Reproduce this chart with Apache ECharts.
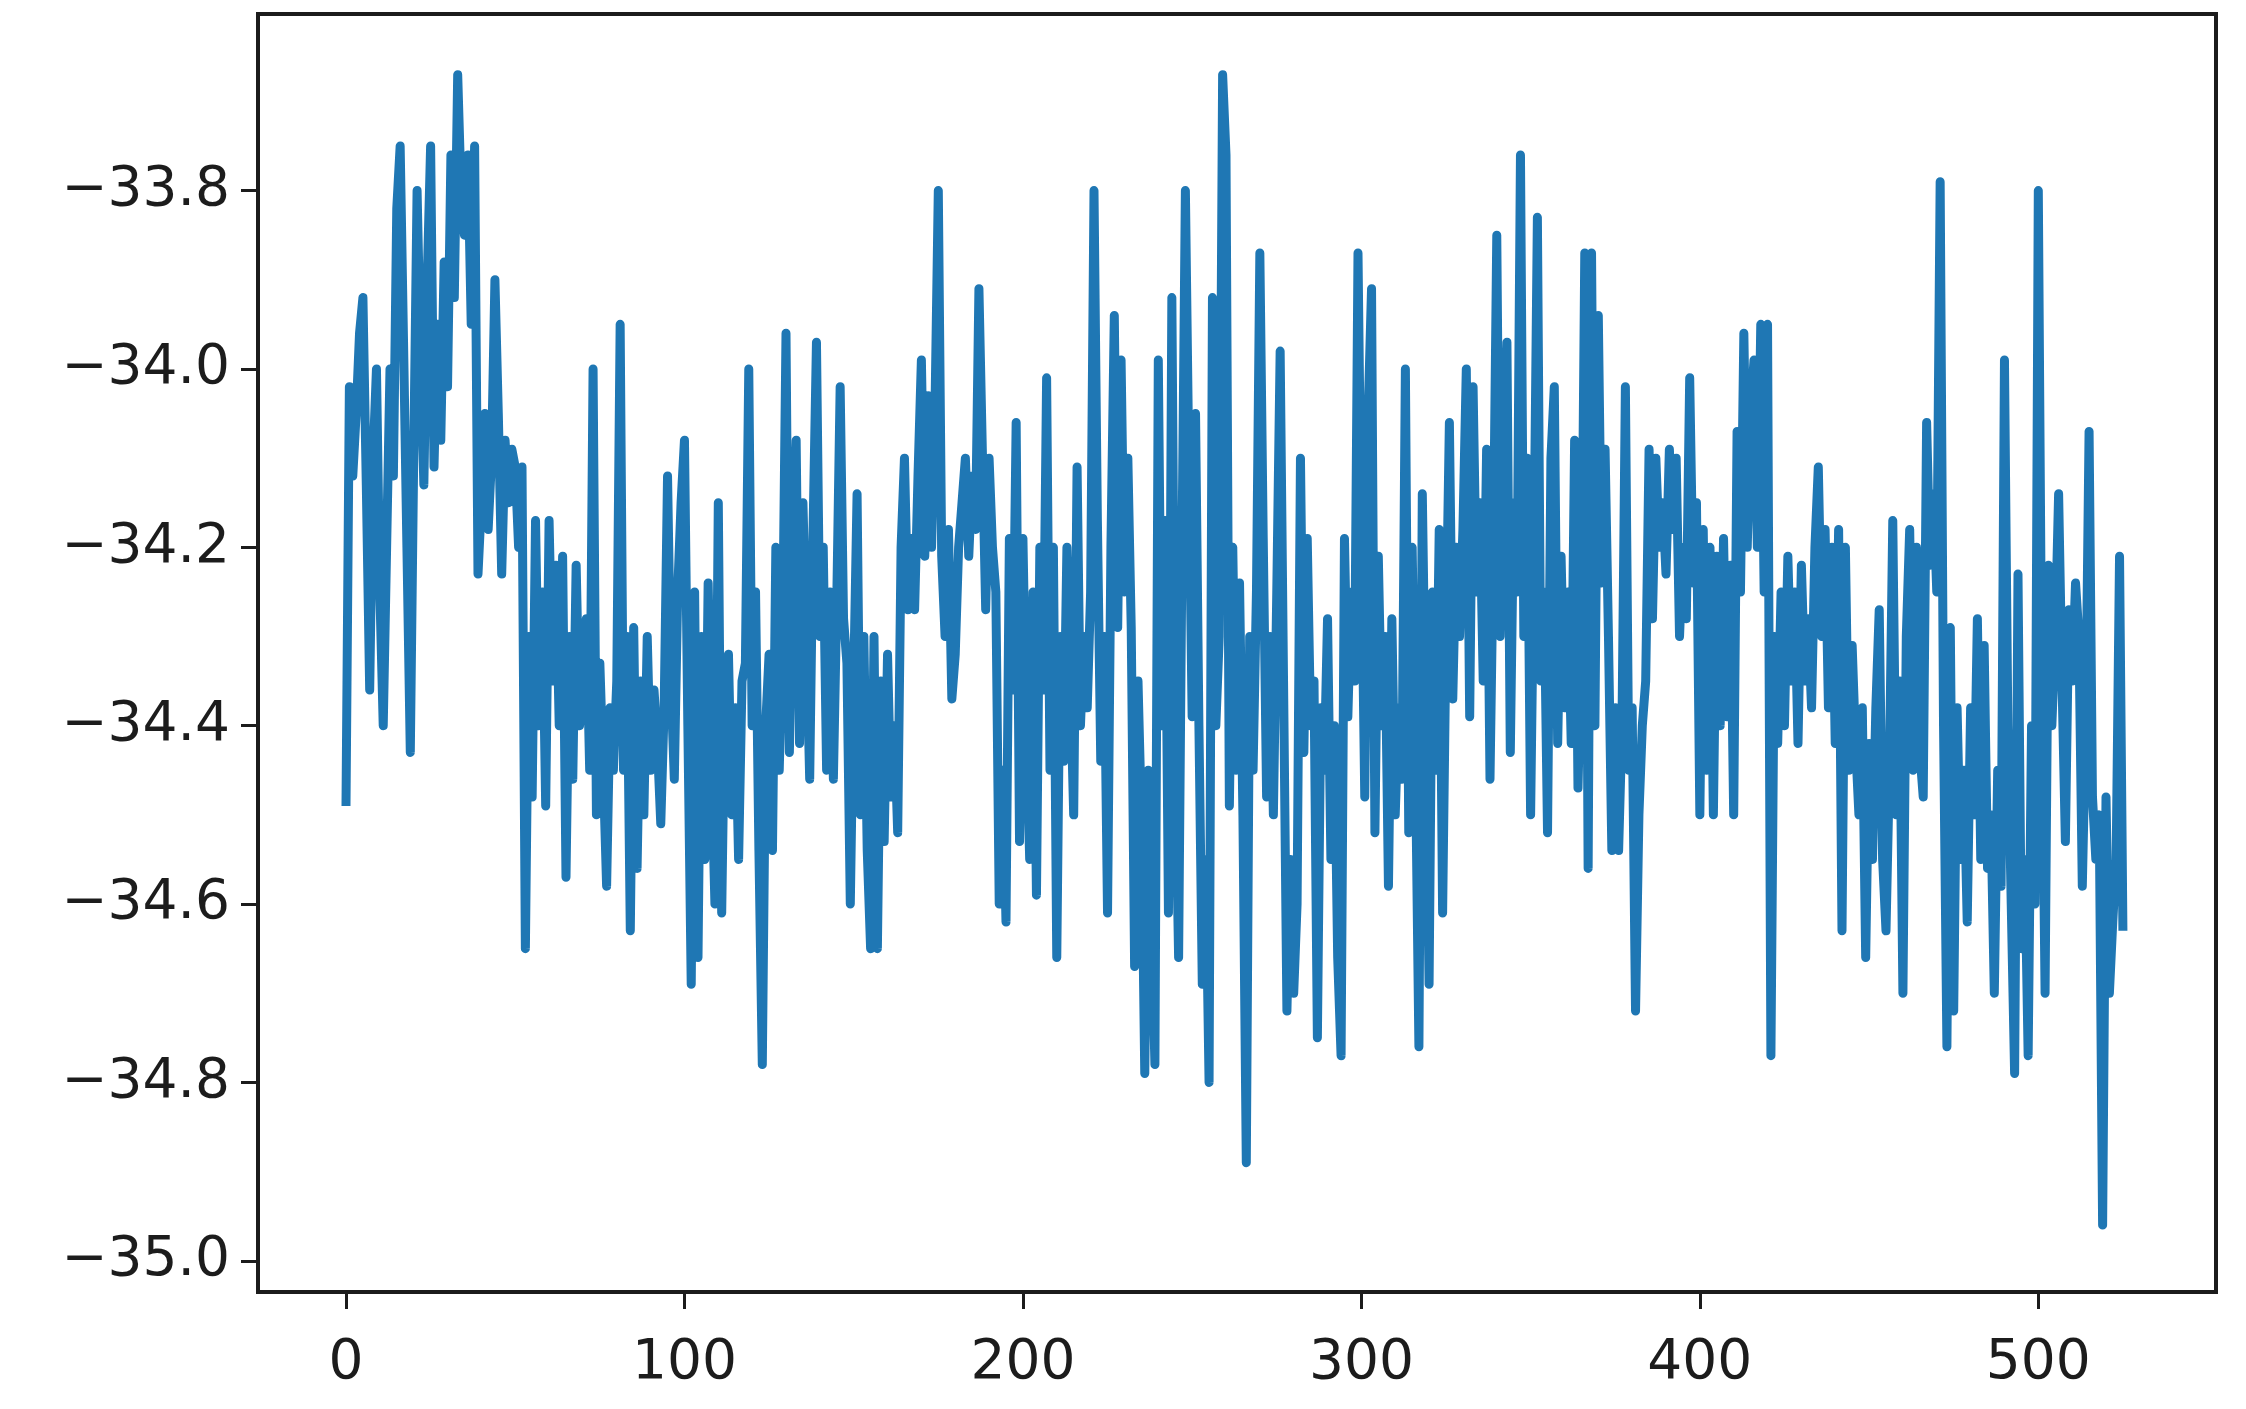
<!DOCTYPE html>
<html>
<head>
<meta charset="utf-8">
<title>line</title>
<script src="https://cdn.jsdelivr.net/npm/echarts@6/dist/echarts.min.js"></script>
<style>
  html, body { margin: 0; padding: 0; background: #fff; }
  #lineChart { width: 2246px; height: 1409px; }
</style>
</head>
<body>
<div id="lineChart"></div>
<script>
  // tick positions shown on the axes
  const xTicks = [0, 100, 200, 300, 400, 500]
  const yTicks = [-35.0, -34.8, -34.6, -34.4, -34.2, -34.0, -33.8]

  // one value per sample, index 0..525
  const values = [
    -34.49, -34.02, -34.12, -34.05, -33.96, -33.92, -34.13, -34.36, -34.10, -34.00,
    -34.25, -34.40, -34.20, -34.00, -34.12, -33.82, -33.75, -33.97, -34.20, -34.43,
    -34.10, -33.80, -33.98, -34.13, -33.90, -33.75, -34.11, -33.95, -34.08, -33.88,
    -34.02, -33.76, -33.92, -33.67, -33.80, -33.85, -33.76, -33.95, -33.75, -34.23,
    -34.15, -34.05, -34.18, -34.10, -33.90, -34.05, -34.23, -34.08, -34.15, -34.09,
    -34.11, -34.20, -34.11, -34.65, -34.30, -34.48, -34.17, -34.40, -34.25, -34.49,
    -34.17, -34.35, -34.22, -34.40, -34.21, -34.57, -34.30, -34.46, -34.22, -34.40,
    -34.35, -34.28, -34.45, -34.00, -34.50, -34.33, -34.45, -34.58, -34.38, -34.45,
    -34.35, -33.95, -34.45, -34.30, -34.63, -34.29, -34.56, -34.35, -34.50, -34.30,
    -34.45, -34.36, -34.42, -34.51, -34.38, -34.12, -34.35, -34.46, -34.25, -34.15,
    -34.08, -34.40, -34.69, -34.25, -34.66, -34.30, -34.55, -34.24, -34.45, -34.60,
    -34.15, -34.61, -34.35, -34.32, -34.50, -34.38, -34.55, -34.35, -34.33, -34.00,
    -34.40, -34.25, -34.54, -34.78, -34.40, -34.32, -34.54, -34.20, -34.45, -34.30,
    -33.96, -34.43, -34.20, -34.08, -34.42, -34.15, -34.30, -34.46, -34.18, -33.97,
    -34.30, -34.20, -34.45, -34.25, -34.46, -34.26, -34.02, -34.28, -34.33, -34.60,
    -34.35, -34.14, -34.50, -34.30, -34.54, -34.65, -34.30, -34.65, -34.35, -34.53,
    -34.32, -34.48, -34.40, -34.52, -34.20, -34.10, -34.27, -34.19, -34.27, -34.12,
    -33.99, -34.21, -34.03, -34.20, -34.05, -33.80, -34.21, -34.30, -34.18, -34.37,
    -34.32, -34.20, -34.15, -34.10, -34.21, -34.12, -34.18, -33.91, -34.09, -34.27,
    -34.10, -34.20, -34.25, -34.60, -34.45, -34.62, -34.19, -34.36, -34.06, -34.53,
    -34.19, -34.40, -34.55, -34.25, -34.59, -34.20, -34.36, -34.01, -34.45, -34.20,
    -34.66, -34.30, -34.44, -34.20, -34.35, -34.50, -34.11, -34.40, -34.30, -34.38,
    -34.25, -33.80, -34.17, -34.44, -34.30, -34.61, -34.20, -33.94, -34.29, -33.99,
    -34.25, -34.10, -34.29, -34.67, -34.35, -34.50, -34.79, -34.45, -34.62, -34.78,
    -33.99, -34.40, -34.17, -34.61, -33.92, -34.44, -34.66, -34.20, -33.80, -34.10,
    -34.39, -34.05, -34.40, -34.69, -34.55, -34.80, -33.92, -34.40, -34.30, -33.67,
    -33.76, -34.49, -34.20, -34.45, -34.24, -34.50, -34.89, -34.30, -34.45, -34.25,
    -33.87, -34.19, -34.48, -34.30, -34.50, -34.25, -33.98, -34.35, -34.72, -34.55,
    -34.70, -34.60, -34.10, -34.43, -34.19, -34.40, -34.35, -34.75, -34.38, -34.45,
    -34.28, -34.55, -34.40, -34.66, -34.77, -34.19, -34.39, -34.25, -34.35, -33.87,
    -34.20, -34.48, -34.05, -33.91, -34.52, -34.21, -34.40, -34.30, -34.58, -34.28,
    -34.50, -34.38, -34.46, -34.00, -34.52, -34.20, -34.45, -34.76, -34.14, -34.40,
    -34.69, -34.25, -34.45, -34.18, -34.61, -34.30, -34.06, -34.37, -34.20, -34.30,
    -34.18, -34.00, -34.39, -34.02, -34.25, -34.15, -34.35, -34.09, -34.46, -34.20,
    -33.85, -34.30, -34.10, -33.97, -34.43, -34.15, -34.25, -33.76, -34.30, -34.10,
    -34.50, -34.20, -33.83, -34.35, -34.25, -34.52, -34.10, -34.02, -34.42, -34.21,
    -34.38, -34.25, -34.42, -34.08, -34.47, -34.30, -33.87, -34.56, -33.87, -34.40,
    -33.94, -34.24, -34.09, -34.30, -34.54, -34.38, -34.54, -34.40, -34.02, -34.45,
    -34.38, -34.72, -34.50, -34.40, -34.35, -34.09, -34.28, -34.10, -34.20, -34.15,
    -34.23, -34.09, -34.18, -34.10, -34.30, -34.20, -34.28, -34.01, -34.24, -34.15,
    -34.50, -34.18, -34.45, -34.20, -34.50, -34.21, -34.40, -34.19, -34.39, -34.22,
    -34.50, -34.07, -34.25, -33.96, -34.20, -34.05, -33.99, -34.20, -33.95, -34.25,
    -33.95, -34.77, -34.30, -34.42, -34.25, -34.40, -34.21, -34.35, -34.25, -34.42,
    -34.22, -34.35, -34.28, -34.38, -34.20, -34.11, -34.30, -34.18, -34.38, -34.20,
    -34.42, -34.18, -34.63, -34.20, -34.45, -34.31, -34.42, -34.50, -34.38, -34.66,
    -34.42, -34.55, -34.38, -34.27, -34.55, -34.63, -34.45, -34.17, -34.50, -34.35,
    -34.70, -34.30, -34.18, -34.45, -34.20, -34.43, -34.48, -34.06, -34.22, -34.14,
    -34.25, -33.79, -34.40, -34.76, -34.29, -34.72, -34.38, -34.55, -34.45, -34.62,
    -34.38, -34.50, -34.28, -34.55, -34.31, -34.56, -34.50, -34.70, -34.45, -34.58,
    -33.99, -34.40, -34.60, -34.79, -34.23, -34.65, -34.55, -34.77, -34.40, -34.60,
    -33.80, -34.35, -34.70, -34.22, -34.40, -34.30, -34.14, -34.35, -34.53, -34.27,
    -34.35, -34.24, -34.30, -34.58, -34.40, -34.07, -34.48, -34.55, -34.50, -34.96,
    -34.48, -34.70, -34.62, -34.55, -34.21, -34.63
  ]

  const textColor = '#1c1c1c'
  const labelFont = {
    fontFamily: 'DejaVu Sans',
    fontSize: 55,
    color: textColor
  }

  const chart = echarts.init(document.getElementById('lineChart'), null, {renderer: 'canvas'})

  chart.setOption({
    animation: false,
    backgroundColor: '#fff',
    grid: {
      left: 258,
      right: 30,
      top: 14,
      bottom: 117,
      show: true,
      borderColor: textColor,
      borderWidth: 4
    },
    xAxis: {
      type: 'value',
      min: -26,
      max: 552.5,
      splitLine: {show: false},
      axisLine: {show: false, onZero: false},
      axisTick: {
        show: true,
        customValues: xTicks,
        length: 17,
        lineStyle: {color: textColor, width: 3}
      },
      axisLabel: Object.assign({
        customValues: xTicks,
        margin: 44
      }, labelFont)
    },
    yAxis: {
      type: 'value',
      min: -35.035,
      max: -33.602,
      splitLine: {show: false},
      axisLine: {show: false, onZero: false},
      axisTick: {
        show: true,
        customValues: yTicks,
        length: 17,
        lineStyle: {color: textColor, width: 3}
      },
      axisLabel: Object.assign({
        customValues: yTicks,
        margin: 28,
        formatter: v => v.toFixed(1).replace('-', '\u2212')
      }, labelFont)
    },
    series: [
      {
        type: 'line',
        data: values.map((v, i) => [i, v]),
        showSymbol: false,
        lineStyle: {
          color: '#1f77b4',
          width: 9,
          join: 'round'
        }
      }
    ]
  })
</script>
</body>
</html>
